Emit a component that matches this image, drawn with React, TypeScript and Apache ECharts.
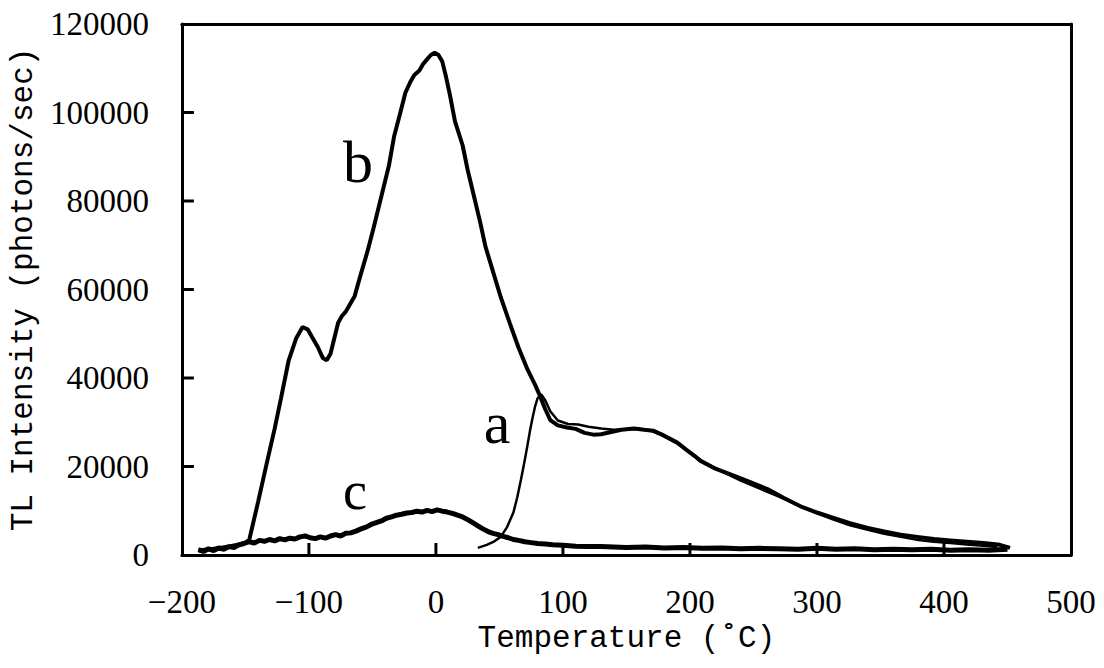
import React, { useEffect, useRef } from "react";
import * as echarts from "echarts";

// Temperature (°C) / TL intensity (photons/sec) pairs
const curveA: [number, number][] = [
  [33, 1600], [40, 2300], [46, 3100], [51, 4100], [56, 6300], [61, 9600], [64, 13000], [67, 17100],
  [70, 21500], [72, 24700], [74, 28000], [76, 30900], [78, 33500], [80, 35400], [83, 36300], [86, 35000],
  [90, 32500], [96, 30400], [104, 29600], [112, 29500], [120, 29000], [130, 28600], [140, 28300],
  [150, 28400], [160, 28500], [170, 28000], [180, 26800], [190, 25200], [200, 23300], [210, 21200],
  [225, 18900], [240, 16800], [255, 15000], [270, 13200], [287, 11000], [300, 9400], [313, 8000],
  [326, 6700], [340, 5700], [353, 4800], [366, 4100], [380, 3400], [392, 3000], [405, 2700],
  [418, 2400], [431, 2100], [442, 1800],
];

const curveB: [number, number][] = [
  [-187, 1000], [-178, 1300], [-170, 1600], [-162, 2000], [-155, 2400], [-150, 2800], [-147, 3400],
  [-140, 12000], [-133, 21000], [-127, 28500], [-122, 35400], [-116, 43900], [-110, 49000],
  [-105, 51500], [-101, 51000], [-97, 49000], [-93, 47000], [-89, 44500], [-86, 44000], [-83, 45500],
  [-80, 49000], [-77, 52500], [-74, 54000], [-71, 55000], [-68, 56500], [-64, 58500], [-59, 63600],
  [-54, 68500], [-49, 74000], [-43, 81000], [-37, 88000], [-33, 94500], [-28, 100000], [-24, 104500],
  [-20, 107000], [-17, 108500], [-13, 109500], [-10, 111000], [-7, 112000], [-4, 113000], [-1, 113500],
  [2, 113000], [5, 111500], [8, 108000], [11, 104000], [15, 98000], [21, 92600], [25, 87000],
  [30, 81000], [35, 75000], [39, 69700], [45, 64000], [51, 58300], [58, 52500], [65, 46900],
  [72, 42000], [78, 38500], [82, 35900], [86, 33000], [90, 30500], [96, 29300], [103, 28800],
  [110, 28500], [117, 27600], [124, 27200], [130, 27300], [138, 27800], [146, 28300], [156, 28600],
  [164, 28300], [171, 28100], [178, 27200], [184, 26300], [190, 25400], [197, 23800], [204, 22300],
  [208, 21300], [220, 19500], [235, 17900], [248, 16400], [261, 14900], [274, 12900], [287, 11000],
  [300, 9600], [313, 8400], [326, 7200], [340, 6100], [353, 5300], [366, 4600], [379, 4100],
  [392, 3600], [405, 3300], [418, 3000], [431, 2700], [444, 2300], [452, 1600],
];

const curveC: [number, number][] = [
  [-187, 1200], [-183, 800], [-179, 1400], [-175, 1000], [-171, 1600], [-167, 1300], [-163, 1900],
  [-159, 1700], [-155, 2300], [-151, 2600], [-147, 3000], [-143, 2700], [-139, 3300], [-135, 3100],
  [-131, 3500], [-127, 3200], [-123, 3700], [-119, 3400], [-115, 3800], [-111, 3600], [-107, 4100],
  [-103, 4300], [-99, 3900], [-95, 3700], [-91, 4100], [-87, 3800], [-83, 4300], [-79, 4600],
  [-75, 4300], [-71, 4900], [-67, 5000], [-63, 5400], [-59, 5900], [-55, 6300], [-51, 6900],
  [-47, 7300], [-43, 7700], [-39, 8300], [-35, 8600], [-31, 9000], [-27, 9200], [-23, 9500],
  [-19, 9600], [-15, 9900], [-11, 9700], [-7, 10100], [-3, 9800], [1, 10200], [5, 9900], [9, 9700],
  [13, 9400], [17, 9000], [21, 8600], [25, 8000], [29, 7300], [33, 6600], [37, 5900], [41, 5300],
  [45, 4900], [49, 4600], [53, 4200], [57, 3900], [61, 3500], [65, 3300], [70, 3000], [75, 2800],
  [80, 2600], [86, 2500], [92, 2300], [100, 2200], [110, 2000], [120, 1900], [130, 1900], [140, 1800],
  [150, 1700], [165, 1800], [180, 1600], [195, 1700], [210, 1500], [225, 1600], [240, 1400],
  [255, 1500], [270, 1400], [285, 1300], [300, 1500], [315, 1300], [330, 1400], [345, 1200],
  [360, 1300], [375, 1200], [390, 1300], [405, 1100], [420, 1200], [435, 1100], [450, 1300],
];

const curveLabels = ["a", "b", "c"];
const xTickValues = [-100, 0, 100, 200, 300, 400];
const yTickValues = [20000, 40000, 60000, 80000, 100000];
const xName = "Temperature (˚C)";
const yName = "TL Intensity (photons/sec)";

const serif = "'Liberation Serif', 'DejaVu Serif', serif";
const mono = "'Liberation Mono', 'DejaVu Sans Mono', monospace";

export default function App() {
  const ref = useRef<HTMLDivElement>(null);
  useEffect(() => {
    document.body.style.margin = "0";
    const chart = echarts.init(ref.current!, null, { renderer: "svg" });
    const line = (name: string, data: [number, number][], width: number) => ({
      name,
      type: "line",
      data,
      showSymbol: false,
      symbol: "none",
      lineStyle: { color: "#000", width },
      itemStyle: { color: "#000" },
    });
    const frameAxis = { show: true, onZero: false, lineStyle: { color: "#000", width: 3 } };
    const labelGraphics: any[] = [
      { type: "text", z: 100, x: 497, y: 423, style: { text: curveLabels[0], font: `60px ${serif}`, fill: "#000", textAlign: "center", textVerticalAlign: "middle" } },
      { type: "text", z: 100, x: 358, y: 162, style: { text: curveLabels[1], font: `60px ${serif}`, fill: "#000", textAlign: "center", textVerticalAlign: "middle" } },
      { type: "text", z: 100, x: 355, y: 491, style: { text: curveLabels[2], font: `54px ${serif}`, fill: "#000", textAlign: "center", textVerticalAlign: "middle" } },
    ];
    const option: any = {
      animation: false,
      backgroundColor: "#fff",
      grid: { left: 181, top: 24, right: 33, bottom: 113 },
      xAxis: [
        {
          type: "value", min: -200, max: 500, interval: 100, position: "bottom",
          name: xName, nameLocation: "middle", nameGap: 55,
          nameTextStyle: { fontFamily: mono, fontSize: 31, color: "#000" },
          axisLine: frameAxis,
          axisTick: { show: false },
          axisLabel: {
            show: true, fontFamily: serif, fontSize: 33, color: "#000", margin: 30,
            formatter: (v: number) => String(v).replace("-", "\u2212"),
          },
          splitLine: { show: false },
        },
        {
          type: "value", min: -200, max: 500, interval: 100, position: "top",
          axisLine: frameAxis, axisTick: { show: false }, axisLabel: { show: false }, splitLine: { show: false },
        },
      ],
      yAxis: [
        {
          type: "value", min: 0, max: 120000, interval: 20000, position: "left",
          name: yName, nameLocation: "middle", nameGap: 132,
          nameTextStyle: { fontFamily: mono, fontSize: 31, color: "#000" },
          axisLine: frameAxis,
          axisTick: { show: false },
          axisLabel: {
            show: true, fontFamily: serif, fontSize: 33, color: "#000", margin: 33,
            formatter: (v: number) => String(v),
          },
          splitLine: { show: false },
        },
        {
          type: "value", min: 0, max: 120000, interval: 20000, position: "right",
          axisLine: frameAxis, axisTick: { show: false }, axisLabel: { show: false }, splitLine: { show: false },
        },
      ],
      series: [
        line(curveLabels[2], curveC, 5),
        line(curveLabels[1], curveB, 4),
        line(curveLabels[0], curveA, 2.5),
      ],
      graphic: labelGraphics,
    };
    chart.setOption(option);
    // inward tick marks placed through the chart's own scales
    const ticks: any[] = [];
    xTickValues.forEach((v) => {
      const p = chart.convertToPixel({ xAxisIndex: 0, yAxisIndex: 0 } as any, [v, 0]) as number[];
      if (p) ticks.push({ type: "line", z: 100, shape: { x1: p[0], y1: p[1], x2: p[0], y2: p[1] - 12 }, style: { stroke: "#000", lineWidth: 3 } });
    });
    yTickValues.forEach((v) => {
      const p = chart.convertToPixel({ xAxisIndex: 0, yAxisIndex: 0 } as any, [-200, v]) as number[];
      if (p) ticks.push({ type: "line", z: 100, shape: { x1: p[0], y1: p[1], x2: p[0] + 12, y2: p[1] }, style: { stroke: "#000", lineWidth: 3 } });
    });
    option.graphic = [...labelGraphics, ...ticks];
    chart.setOption(option, true);
    return () => chart.dispose();
  }, []);
  return <div ref={ref} style={{ width: 1104, height: 668 }} />;
}
